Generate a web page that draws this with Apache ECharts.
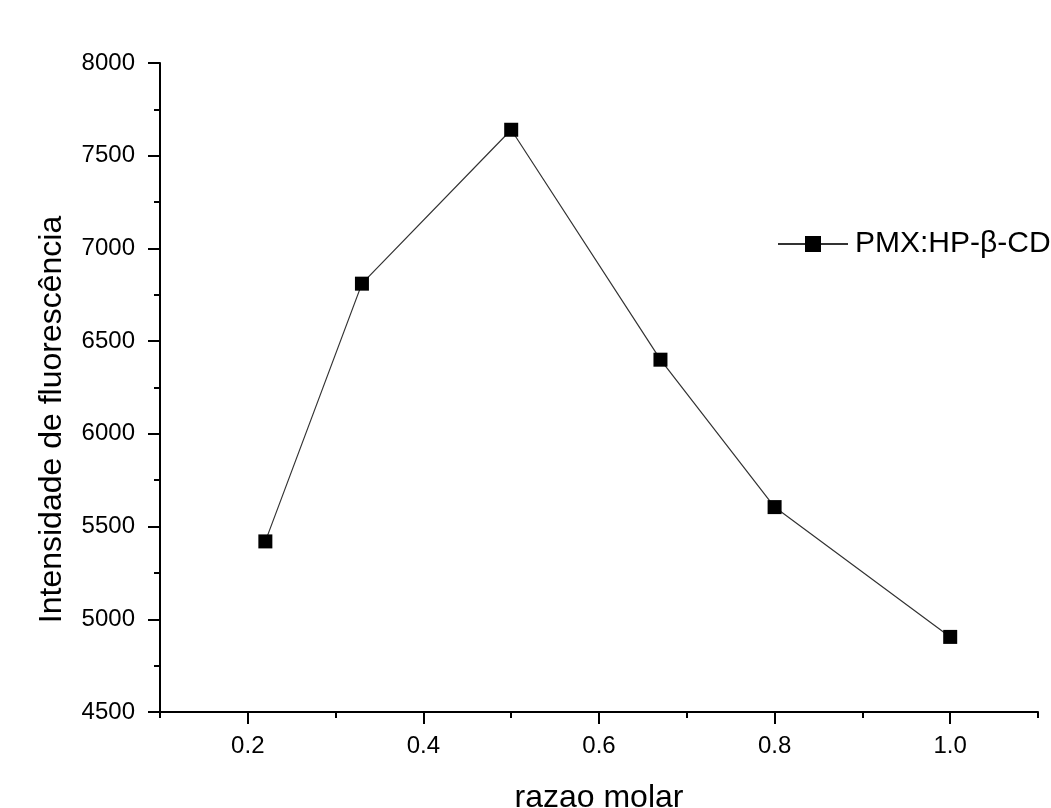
<!DOCTYPE html>
<html>
<head>
<meta charset="utf-8">
<script src="https://cdn.jsdelivr.net/npm/echarts@6/dist/echarts.min.js"></script>
<style>
  html, body { margin: 0; padding: 0; background: #fff; }
  #chart { width: 1051px; height: 808px; }
</style>
</head>
<body>
<div id="chart"></div>
<script>
// dados
var razao = [0.22, 0.33, 0.50, 0.67, 0.80, 1.00];
var intensidade = [5420, 6810, 7640, 6400, 5605, 4905];
var xMajorTicks = [0.2, 0.4, 0.6, 0.8, 1.0];
var xMinorTicks = [0.1, 0.3, 0.5, 0.7, 0.9, 1.1];
var serieNome = 'PMX:HP-β-CD';

var myChart = echarts.init(document.getElementById('chart'));
var fonte = '"Liberation Sans", Arial, sans-serif';

myChart.setOption({
  animation: false,
  textStyle: { fontFamily: fonte },
  grid: { left: 160, right: 13, top: 63, bottom: 96, containLabel: false, outerBoundsMode: 'none' },
  legend: {
    data: [serieNome],
    left: 777,
    top: 229,
    padding: 0,
    itemWidth: 70,
    itemHeight: 20,
    itemGap: 0,
    textStyle: { fontSize: 30, color: '#000', fontFamily: fonte, padding: [0, 0, 0, 2] }
  },
  xAxis: [
    {
      type: 'value',
      min: 0.1,
      max: 1.1,
      name: 'razao molar',
      nameLocation: 'middle',
      nameGap: 70,
      nameTextStyle: { fontSize: 32, color: '#000', fontFamily: fonte },
      splitLine: { show: false },
      axisLine: { show: true, lineStyle: { color: '#000', width: 2 } },
      axisTick: { show: true, length: 12, lineStyle: { color: '#000', width: 2 }, customValues: xMajorTicks },
      axisLabel: {
        fontSize: 24, color: '#000', margin: 22, customValues: xMajorTicks,
        formatter: function (v) { return v.toFixed(1); }
      }
    },
    {
      // so os ticks menores
      type: 'value',
      min: 0.1,
      max: 1.1,
      position: 'bottom',
      splitLine: { show: false },
      axisLine: { show: false },
      axisTick: { show: true, length: 6, lineStyle: { color: '#000', width: 2 }, customValues: xMinorTicks },
      axisLabel: { show: false }
    }
  ],
  yAxis: {
    type: 'value',
    min: 4500,
    max: 8000,
    interval: 500,
    name: 'Intensidade de fluorescência',
    nameLocation: 'middle',
    nameGap: 92,
    nameTextStyle: { fontSize: 32, color: '#000', fontFamily: fonte, padding: [0, 64, 0, 0] },
    splitLine: { show: false },
    axisLine: { show: true, lineStyle: { color: '#000', width: 2 } },
    axisTick: { show: true, length: 12, lineStyle: { color: '#000', width: 2 } },
    minorTick: { show: true, splitNumber: 2, length: 6, lineStyle: { color: '#000', width: 2 } },
    axisLabel: {
      fontSize: 24, color: '#000', margin: 25,
      formatter: function (v) { return String(v); }
    }
  },
  series: [
    {
      name: serieNome,
      type: 'line',
      xAxisIndex: 0,
      data: razao.map(function (x, i) { return [x, intensidade[i]]; }),
      symbol: 'rect',
      symbolSize: 14,
      itemStyle: { color: '#000' },
      lineStyle: { color: '#333', width: 1.2 }
    }
  ]
});
</script>
</body>
</html>
